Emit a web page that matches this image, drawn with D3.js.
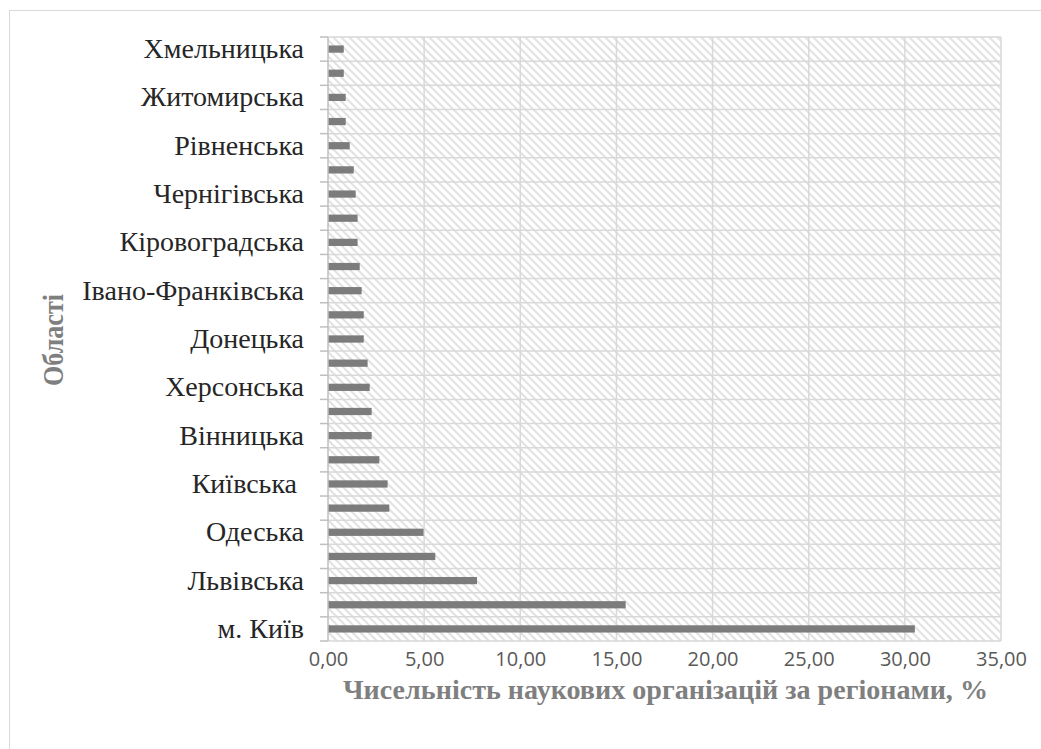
<!DOCTYPE html>
<html><head><meta charset="utf-8">
<script src="https://cdn.jsdelivr.net/npm/d3@7"></script>
<style>
html,body{margin:0;padding:0;background:#fff;}
svg{display:block;}
</style>
</head><body>
<svg id="chart" width="1041" height="749"></svg>
<script>
const categories = ["м. Київ","Харківська","Львівська","Дніпропетровська","Одеська","Запорізька","Київська ","Полтавська","Вінницька","Миколаївська","Херсонська","Черкаська","Донецька","Сумська","Івано-Франківська","Луганська","Кіровоградська","Тернопільська","Чернігівська","Закарпатська","Рівненська","Волинська","Житомирська","Чернівецька","Хмельницька"];
const values = [30.52,15.48,7.75,5.58,4.97,3.19,3.10,2.67,2.27,2.27,2.17,2.06,1.86,1.86,1.75,1.65,1.54,1.54,1.44,1.34,1.13,0.92,0.92,0.82,0.82];
const xTicks = [0,5,10,15,20,25,30,35];
const xTitle = "Чисельність наукових організацій за регіонами, %";
const yTitle = "Області";

const svg = d3.select("#chart");
const L = 328, R = 1001, T = 37, B = 641;

// outer border
svg.append("rect").attr("x",9.5).attr("y",10.5).attr("width",1100).attr("height",800)
  .attr("fill","none").attr("stroke","#d9d9d9").attr("stroke-width",1);

const defs = svg.append("defs");
const pat = defs.append("pattern").attr("id","hatch").attr("patternUnits","userSpaceOnUse")
  .attr("width",8).attr("height",8);
pat.append("rect").attr("width",8).attr("height",8).attr("fill","#fff");
pat.append("path").attr("d","M-2,-2 L10,10 M-2,6 L2,10 M6,-2 L10,2")
  .attr("stroke","#e2e2e2").attr("stroke-width",2);

const x = d3.scaleLinear().domain([0,35]).range([L,R]);
const y = d3.scaleBand().domain(categories).range([B,T]).paddingInner(0.7).paddingOuter(0.35);
const yl = d3.scaleLinear().domain([0,categories.length]).range([B,T]);

svg.append("rect").attr("x",L).attr("y",T).attr("width",R-L).attr("height",B-T).attr("fill","url(#hatch)");

// horizontal gridlines
svg.append("g").selectAll("line").data(d3.range(categories.length+1)).join("line")
  .attr("x1",L).attr("x2",R).attr("y1",d=>yl(d)).attr("y2",d=>yl(d))
  .attr("stroke","#d9d9d9").attr("stroke-width",1.5);
// vertical gridlines
svg.append("g").selectAll("line").data(xTicks.slice(1)).join("line")
  .attr("x1",d=>x(d)).attr("x2",d=>x(d)).attr("y1",T).attr("y2",B)
  .attr("stroke","#d9d9d9").attr("stroke-width",1.5);

// bars
svg.append("g").selectAll("rect").data(values).join("rect")
  .attr("x",x(0)).attr("y",(d,i)=>y(categories[i]))
  .attr("width",d=>x(d)-x(0)).attr("height",y.bandwidth())
  .attr("fill","#7c7c7c");

// y axis line and ticks
const yAxisG = svg.append("g");
yAxisG.append("line").attr("x1",L).attr("x2",L).attr("y1",T).attr("y2",B)
  .attr("stroke","#bfbfbf").attr("stroke-width",1.5);
yAxisG.selectAll("line.tk").data(d3.range(categories.length+1)).join("line").attr("class","tk")
  .attr("x1",L-8).attr("x2",L).attr("y1",d=>yl(d)).attr("y2",d=>yl(d))
  .attr("stroke","#bfbfbf").attr("stroke-width",1.5);

// y labels via axis
const yAxis = d3.axisLeft(y).tickSize(0).tickPadding(24)
  .tickFormat((d,i)=> i%2===0 ? d : "");
const ya = svg.append("g").attr("transform",`translate(${L},0)`).call(yAxis);
ya.select(".domain").remove();
ya.selectAll("text").attr("font-family","'Liberation Serif', 'Times New Roman', serif")
  .attr("font-size",28).attr("fill","#262626").style("white-space","pre");

// x axis labels
const xAxis = d3.axisBottom(x).tickValues(xTicks).tickSize(0).tickPadding(11)
  .tickFormat(d=>d3.format(".2f")(d).replace(".",","));
const xa = svg.append("g").attr("transform",`translate(0,${B})`).call(xAxis);
xa.select(".domain").remove();
xa.selectAll("text").attr("font-family","'Open Sans', sans-serif").attr("font-size",20).attr("fill","#595959");

// titles
svg.append("text").attr("x",(343+988)/2).attr("y",699).attr("text-anchor","middle")
  .attr("font-family","'Liberation Serif', serif").attr("font-weight","bold").attr("font-size",28)
  .attr("fill","#7f7f7f").attr("textLength",645).attr("lengthAdjust","spacingAndGlyphs").text(xTitle);

svg.append("text").attr("transform","translate(63,340) rotate(-90)").attr("text-anchor","middle")
  .attr("font-family","'Liberation Serif', serif").attr("font-weight","bold").attr("font-size",30)
  .attr("fill","#7f7f7f").attr("textLength",92).attr("lengthAdjust","spacingAndGlyphs").text(yTitle);
</script>
</body></html>
